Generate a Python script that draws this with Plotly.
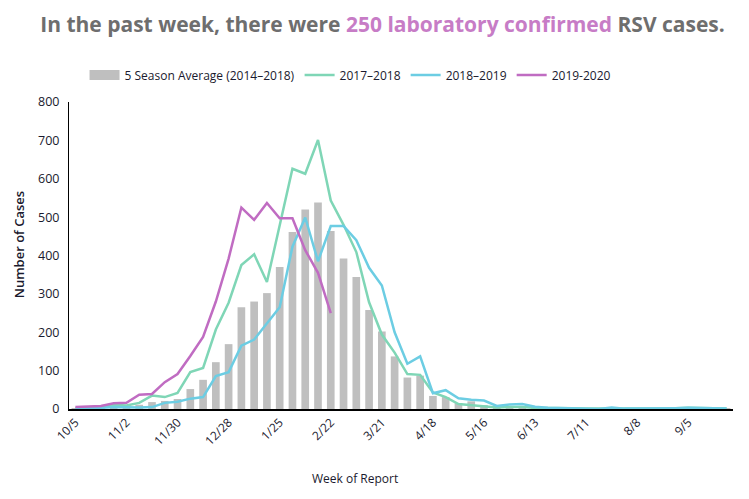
import plotly.graph_objects as go

weeks = ["10/5", "10/12", "10/19", "10/26", "11/2", "11/9", "11/16", "11/23", "11/30", "12/7",
         "12/14", "12/21", "12/28", "1/4", "1/11", "1/18", "1/25", "2/1", "2/8", "2/15",
         "2/22", "2/29", "3/7", "3/14", "3/21", "3/28", "4/4", "4/11", "4/18", "4/25",
         "5/2", "5/9", "5/16", "5/23", "5/30", "6/6", "6/13", "6/20", "6/27", "7/4",
         "7/11", "7/18", "7/25", "8/1", "8/8", "8/15", "8/22", "8/29", "9/5", "9/12",
         "9/19", "9/26"]
tick_labels = ["10/5", "11/2", "11/30", "12/28", "1/25", "2/22", "3/21", "4/18",
               "5/16", "6/13", "7/11", "8/8", "9/5"]

avg_5season = [2, 3, 4, 6, 8, 11, 18, 21, 26, 52, 76, 122, 169, 265, 280, 302, 370, 461, 520, 538,
               464, 392, 344, 258, 202, 137, 82, 87, 34, 31, 15, 20, 10, 6, 5, 4, 3, 2, 2, 1,
               1, 1, 1, 1, 1, 1, 1, 1, 2, 2, 1, 1]
s2017_2018 = [2, 3, 5, 11, 9, 16, 35, 31, 42, 96, 107, 207, 277, 375, 403, 331, 482, 626, 613, 701,
              543, 480, 409, 278, 194, 147, 91, 89, 43, 31, 13, 10, 8, 4, 5, 5, 3, 3, 2, 2,
              1, 1, 2, 1, 1, 1, 1, 2, 3, 3, 2, 1]
s2018_2019 = [0, 1, 3, 5, 4, 4, 5, 16, 19, 27, 31, 86, 96, 165, 181, 224, 265, 423, 499, 385,
              477, 477, 440, 368, 322, 200, 118, 137, 41, 49, 28, 24, 22, 8, 12, 13, 6, 3, 2, 1,
              1, 0, 4, 1, 1, 1, 1, 2, 3, 3, 2, 1]
s2019_2020 = [5, 6, 8, 15, 16, 37, 39, 70, 91, 138, 188, 280, 392, 525, 493, 537, 497, 497, 414, 355,
              250]

avg_name = "5 Season Average (2014\u20132018)"
bar_color = "#bfbfbf"

fig = go.Figure()
fig.add_trace(go.Bar(x=weeks, y=avg_5season, name=avg_name, showlegend=False,
                     marker=dict(color=bar_color, line=dict(width=0)), width=0.6))
# legend swatch drawn as a wide gray block (like the reference legend)
fig.add_trace(go.Scatter(x=[weeks[0]], y=[None], name=avg_name, mode="lines",
                         line=dict(color=bar_color, width=10)))
fig.add_trace(go.Scatter(x=weeks, y=s2017_2018, name="2017\u20132018", mode="lines",
                         line=dict(color="#7fd6b6", width=2.5)))
fig.add_trace(go.Scatter(x=weeks, y=s2018_2019, name="2018\u20132019", mode="lines",
                         line=dict(color="#6ccde3", width=2.5)))
fig.add_trace(go.Scatter(x=weeks[:len(s2019_2020)], y=s2019_2020, name="2019-2020", mode="lines",
                         line=dict(color="#c06cc2", width=2.5)))

fig.update_layout(
    width=749, height=499,
    margin=dict(l=61, r=24, t=94, b=98),
    paper_bgcolor="white", plot_bgcolor="white",
    font=dict(family="Open Sans", color="#1a1a2e", size=12),
    title=dict(
        text="In the past week, there were <span style='color:#c77cc6'>250 laboratory confirmed</span> RSV cases.",
        x=0.5, xanchor="center", y=0.966, yanchor="middle",
        font=dict(family="Open Sans", size=21, color="#6e6e6e", weight="bold")),
    legend=dict(orientation="h", x=0.424, xanchor="center", y=1.088, yanchor="middle",
                font=dict(size=12, color="#1a1a2e"), itemwidth=30, traceorder="normal",
                bgcolor="rgba(0,0,0,0)"),
    showlegend=True,
    bargap=0.4,
)
fig.update_xaxes(type="category", range=[-0.5, 51.5], tickmode="array",
                 tickvals=tick_labels, ticktext=tick_labels, tickangle=-45,
                 showline=True, linecolor="black", linewidth=1.5, showgrid=False,
                 ticks="", tickfont=dict(size=12))
fig.update_yaxes(range=[0, 800], dtick=100, showline=True, linecolor="black", linewidth=1,
                 showgrid=False, zeroline=False, ticks="", ticklabelstandoff=6,
                 tickfont=dict(size=12.5))

fig.add_annotation(text="Week of Report", xref="paper", yref="paper", x=0.43, y=-0.225,
                   showarrow=False, font=dict(size=12, color="#1a1a2e"), yanchor="middle")
fig.add_annotation(text="Number of Cases", xref="paper", yref="paper", x=-0.075, y=0.534,
                   showarrow=False, textangle=-90, font=dict(size=13, color="#1a1a2e", weight=600),
                   xanchor="center", yanchor="middle")

fig.write_html("out.html")
